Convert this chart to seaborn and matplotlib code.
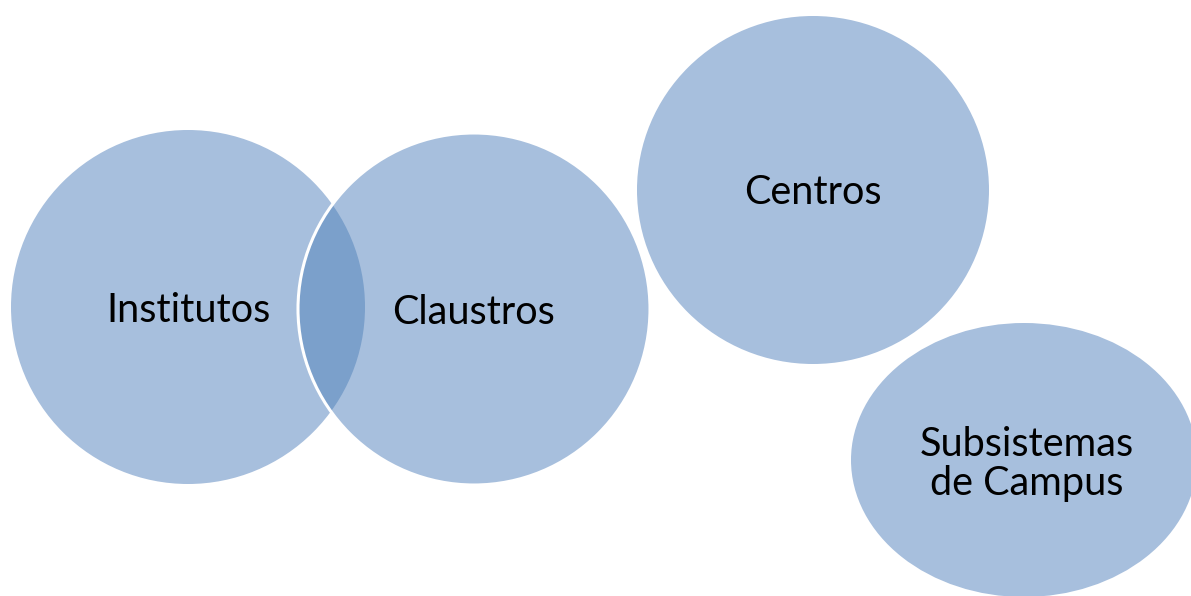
import matplotlib
matplotlib.use("Agg")
import matplotlib.pyplot as plt
import seaborn as sns
from matplotlib.patches import Ellipse

sns.set_style("white")
plt.rcParams['font.family'] = ['Lato', 'DejaVu Sans']

# labels of the bubbles
labels = ["Institutos", "Claustros", "Centros", "Subsistemas\nde Campus"]
# bubble centres and radii (pixel space)
cx = [188, 474, 813, 1024]
cy = [307, 309, 190, 460]
rx = [177, 176, 176, 173]
ry = [177, 176, 174, 137]

fill = "#a7bfdd"
overlap = "#7ba0cb"

fig = plt.figure(figsize=(11.91, 5.96), dpi=100)
ax = fig.add_axes([0, 0, 1, 1])
ax.set_xlim(0, 1191)
ax.set_ylim(596, 0)
ax.set_aspect("equal")
ax.axis("off")

shapes = []
for i in range(len(labels)):
    e = Ellipse((cx[i], cy[i]), 2 * rx[i], 2 * ry[i], facecolor=fill, edgecolor="none", zorder=1)
    ax.add_patch(e)
    shapes.append(e)

# intersection of the first two bubbles
lens = Ellipse((cx[1], cy[1]), 2 * rx[1], 2 * ry[1], facecolor=overlap, edgecolor="none", zorder=2)
ax.add_patch(lens)
lens.set_clip_path(shapes[0])

# white rim of Claustros
rim = Ellipse((cx[1], cy[1]), 2 * rx[1], 2 * ry[1], facecolor="none", edgecolor="white", lw=2.2, zorder=3)
ax.add_patch(rim)

for i, lab in enumerate(labels):
    ax.text(cx[i] + (0 if i < 3 else 3), cy[i] + (3 if i < 3 else 4), lab, ha="center", va="center",
            fontsize=28.5, color="black", linespacing=1.1, zorder=4)

fig.savefig("out.png", dpi=100)
